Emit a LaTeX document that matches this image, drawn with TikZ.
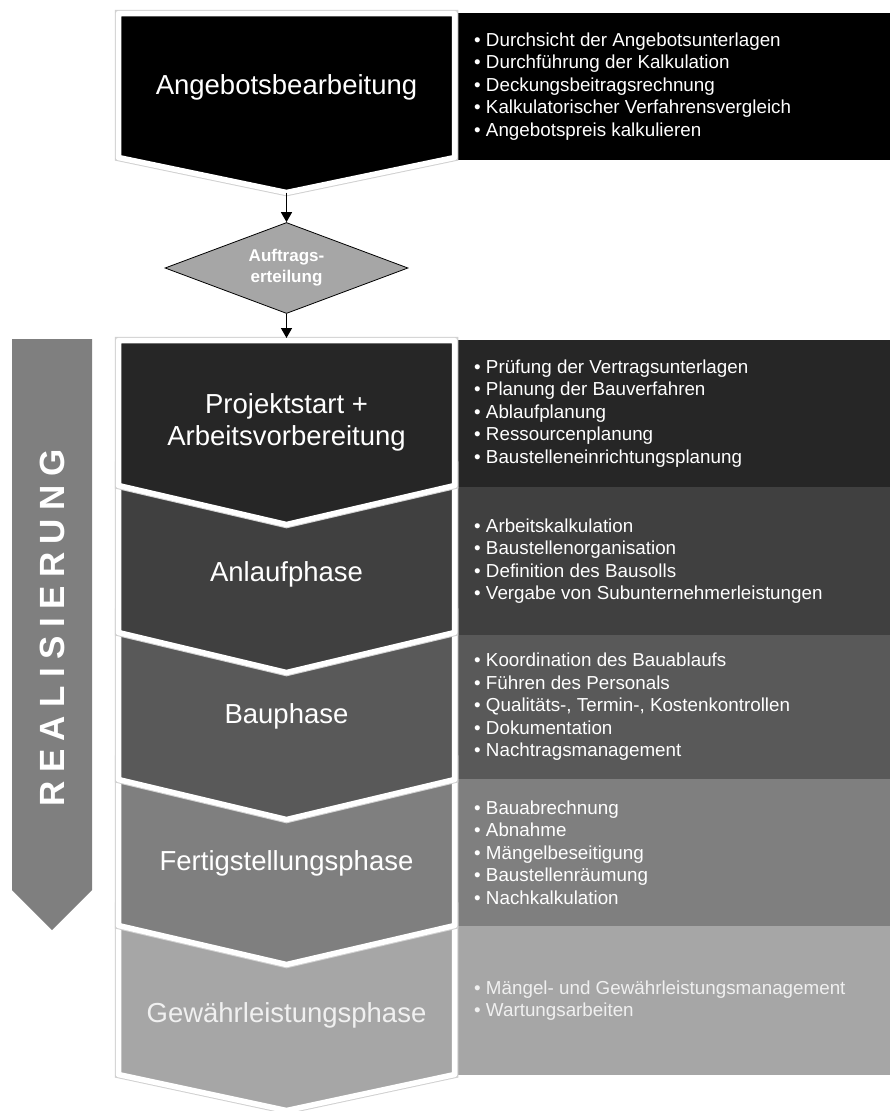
\documentclass[tikz,border=0pt]{standalone}
\usepackage{fontspec}
\setmainfont{Liberation Sans}
\newfontfamily\bandfont[LetterSpace=24]{Liberation Sans}
\usetikzlibrary{shapes.geometric,arrows.meta}
\definecolor{phase-a}{HTML}{000000}
\definecolor{phase-b}{HTML}{262626}
\definecolor{phase-c}{HTML}{404040}
\definecolor{phase-d}{HTML}{595959}
\definecolor{phase-e}{HTML}{7F7F7F}
\definecolor{phase-f}{HTML}{A6A6A6}
\tikzset{
    chevron/.style = {draw=white, line width=5.5pt, line join=round, preaction={draw=black!18, line width=7.5pt}},
    phase-title/.style = {text=white, font=\fontsize{27.5}{32}\selectfont, align=center, inner sep=0pt},
    task-list/.style = {text=white, font=\fontsize{18.8}{22.5}\selectfont, align=left, anchor=west, inner sep=0pt},
    decision/.style = {diamond, draw=black, thick, fill=phase-f, text=white, font=\bfseries\fontsize{17}{21}\selectfont, align=center, inner sep=0pt, aspect=2.67, minimum width=243pt, minimum height=91pt},
    flow/.style = {-{Triangle[length=10pt,width=11pt]}, line width=1.5pt},
}

\begin{document}
\begin{tikzpicture}[x=1pt, y=-1pt]
\useasboundingbox (0,0) rectangle (890,1111);

% task panels
\fill[phase-a] (458,13) rectangle (890,160);
\fill[phase-b] (458,340) rectangle (890,487);
\fill[phase-c] (458,487) rectangle (890,635);
\fill[phase-d] (458,635) rectangle (890,779);
\fill[phase-e] (458,779) rectangle (890,926);
\fill[phase-f] (458,926) rectangle (890,1075);

% realisation band
\fill[phase-e] (12,339) -- (92,339) -- (92,890) -- (52,930) -- (12,890) -- cycle;
\node[text=white, rotate=90, font=\bandfont\bfseries\fontsize{35}{40}\selectfont, inner sep=0pt] (band) at (52,628) {REALISIERUNG};

% chevrons, lowest first
\foreach \ytop/\yside/\ytip/\shade in {906/1074.5/1110.5/phase-f, 759/925.5/964.5/phase-e, 612/779.5/819.5/phase-d, 465/632.5/672.5/phase-c}
    \path[chevron, fill=\shade] (118.5,\ytop) -- (454.5,\ytop) -- (454.5,\yside) -- (286.5,\ytip) -- (118.5,\yside) -- cycle;
\path[chevron, fill=phase-b] (118.5,340.5) -- (454.5,340.5) -- (454.5,485.5) -- (286.5,524.5) -- (118.5,485.5) -- cycle;
\path[chevron, fill=phase-a] (118.5,13.5) -- (454.5,13.5) -- (454.5,157.5) -- (286.5,192.5) -- (118.5,157.5) -- cycle;

% phase titles
\node[phase-title, anchor=base] (angebot) at (286.5,94) {Angebotsbearbeitung};
\node[phase-title] (projekt) at (286.5,422) {Projektstart +\\Arbeitsvorbereitung};
\node[phase-title, anchor=base] (anlauf) at (286.5,581) {Anlaufphase};
\node[phase-title, anchor=base] (bau) at (286.5,723) {Bauphase};
\node[phase-title, anchor=base] (fertig) at (286.5,870) {Fertigstellungsphase};
\node[phase-title, anchor=base, text=white!94!black] (gewaehr) at (286.5,1022) {Gewährleistungsphase};

% decision
\coordinate (angebot-tip) at (286.5,192.5);
\coordinate (projekt-top) at (286.5,338);
\node[decision] (auftrag) at (286.5,268) {Auftrags-\\erteilung};
\draw[flow] (angebot-tip) -- (auftrag.north);
\draw[flow] (auftrag.south) -- (projekt-top);

% task lists
\node[task-list] (angebot-tasks) at (474,86.5) {• Durchsicht der Angebotsunterlagen\\• Durchführung der Kalkulation\\• Deckungsbeitragsrechnung\\• Kalkulatorischer Verfahrensvergleich\\• Angebotspreis kalkulieren};
\node[task-list] (projekt-tasks) at (474,413.5) {• Prüfung der Vertragsunterlagen\\• Planung der Bauverfahren\\• Ablaufplanung\\• Ressourcenplanung\\• Baustelleneinrichtungsplanung};
\node[task-list] (anlauf-tasks) at (474,561) {• Arbeitskalkulation\\• Baustellenorganisation\\• Definition des Bausolls\\• Vergabe von Subunternehmerleistungen};
\node[task-list] (bau-tasks) at (474,707) {• Koordination des Bauablaufs\\• Führen des Personals\\• Qualitäts-, Termin-, Kostenkontrollen\\• Dokumentation\\• Nachtragsmanagement};
\node[task-list] (fertig-tasks) at (474,852.5) {• Bauabrechnung\\• Abnahme\\• Mängelbeseitigung\\• Baustellenräumung\\• Nachkalkulation};
\node[task-list, text=white!94!black] (gewaehr-tasks) at (474,1000.5) {• Mängel- und Gewährleistungsmanagement\\• Wartungsarbeiten};
\end{tikzpicture}
\end{document}
